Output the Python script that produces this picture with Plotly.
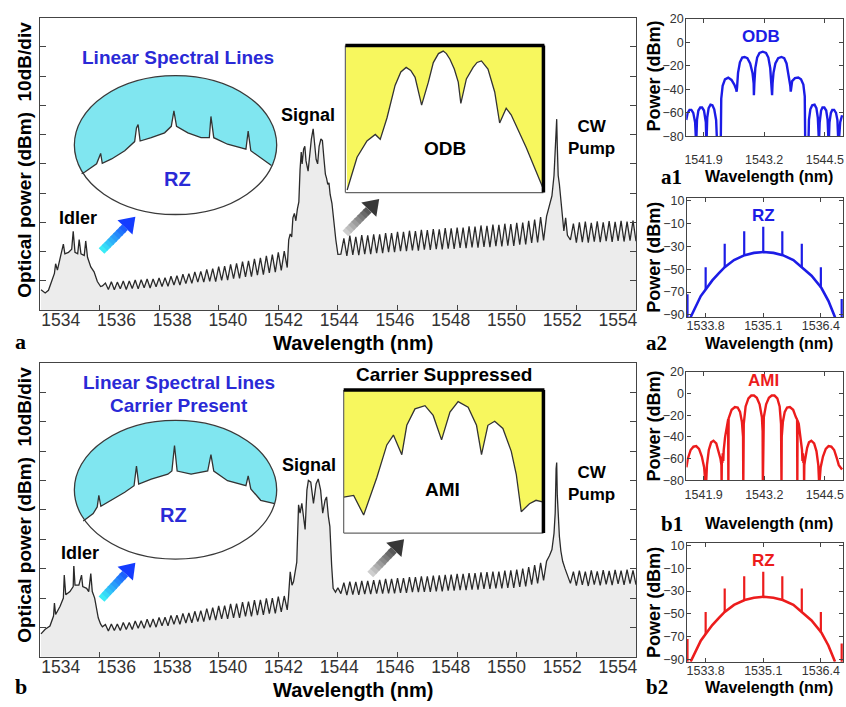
import plotly.graph_objects as go

W, H = 846, 707
def PX(x): return x / W
def PY(y): return 1 - y / H

SANS = "Liberation Sans, Arial, sans-serif"
SERIF = "Liberation Serif, Times New Roman, serif"

# ======================= DATA =======================
# ---- main spectrum, panel a (wavelength nm, power dBm) ----
a_idler = [(1534.04,-63.1),(1534.18,-64.2),(1534.29,-63.3),(1534.40,-59.7),(1534.49,-57.5),(1534.53,-54.2),
           (1534.59,-56.4),(1534.71,-51.0),(1534.79,-47.5),(1534.84,-50.8),(1534.96,-50.3),(1535.07,-49.2),
           (1535.12,-43.1),(1535.18,-50.3),(1535.27,-50.8),(1535.32,-45.9),(1535.38,-50.8),(1535.49,-51.4),
           (1535.54,-46.4),(1535.60,-52.0),(1535.71,-55.3),(1535.82,-57.0),(1535.93,-60.3),(1536.04,-62.0)]
a_rip1_start = 1536.1
a_rip1_troughs = [-61.8,-63.0,-63.1,-62.8,-63.0,-62.7,-62.8,-62.4,-62.5,-62.1,-62.0,-61.9,-61.5,-61.5,-61.0,-60.9,
                  -60.5,-60.5,-60.2,-60.3,-59.9,-59.8,-59.3,-59.2,-58.7,-58.6,-58.1,-57.9,-57.3,-57.1,-56.5,-55.5]
a_rip1_peaks = [-60.8,-60.4,-60.5,-60.1,-60.1,-59.8,-59.7,-59.4,-59.4,-59.1,-59.0,-58.5,-58.3,-57.8,-57.6,-57.0,
                -56.8,-56.1,-55.9,-55.2,-55.0,-54.4,-54.1,-53.5,-53.2,-52.5,-52.2,-51.5,-51.1,-50.3,-49.9]
a_signal = [(1542.35,-46.0),(1542.40,-44.0),(1542.45,-45.0),(1542.49,-38.5),(1542.54,-37.0),(1542.59,-39.5),
            (1542.64,-35.5),(1542.69,-33.0),(1542.73,-22.0),(1542.77,-16.0),(1542.80,-20.0),(1542.85,-15.0),
            (1542.89,-14.0),(1542.93,-19.0),(1543.00,-22.5),(1543.05,-17.0),(1543.11,-11.5),(1543.17,-8.0),
            (1543.22,-13.0),(1543.27,-18.5),(1543.32,-20.0),(1543.37,-14.0),(1543.43,-11.5),(1543.48,-12.0),
            (1543.53,-18.0),(1543.58,-23.5),(1543.62,-25.0),(1543.66,-27.0),(1543.70,-26.5),(1543.74,-30.5),
            (1543.80,-33.5),(1543.86,-40.0),(1543.93,-46.0),(1544.00,-51.0)]
a_rip2_start = 1544.1
a_rip2_troughs = [-50.9,-51.5,-51.2,-51.3,-50.9,-50.9,-50.6,-50.6,-50.2,-50.2,-49.9,-49.9,-49.6,-49.7,-49.4,-49.5,
                  -49.2,-49.3,-49.0,-49.1,-48.8,-48.9,-48.6,-48.7,-48.4,-48.5,-48.2,-48.3,-48.0,-48.1,-47.7,-47.6,
                  -47.1,-46.9,-46.2]
a_rip2_peaks = [-45.5,-44.6,-45.0,-44.4,-44.5,-44.1,-44.1,-43.7,-43.7,-43.3,-43.3,-42.9,-43.0,-42.6,-42.7,-42.3,
                -42.4,-42.0,-42.1,-41.8,-41.8,-41.4,-41.5,-41.1,-41.2,-40.8,-40.9,-40.5,-40.6,-40.2,-40.1,-39.5,
                -39.1,-38.2]
a_pump = [(1551.00,-38.0),(1551.10,-34.0),(1551.18,-31.0),(1551.25,-24.0),(1551.29,-13.0),(1551.32,-5.0),
          (1551.34,-4.7),(1551.36,-14.0),(1551.39,-24.0),(1551.43,-27.0),(1551.47,-32.0),(1551.52,-38.0),
          (1551.58,-43.0),(1551.64,-38.5),(1551.70,-44.5)]
a_rip3_start = 1551.8
a_rip3_troughs = [-46.0,-47.0,-46.8,-47.0,-46.6,-46.8,-46.5,-46.7,-46.4,-46.6,-46.3,-46.5,-46.2]
a_rip3_peaks = [-40.5,-40.0,-39.8,-40.2,-39.7,-40.0,-39.6,-39.9,-39.5,-39.8,-39.4,-39.6]

# ---- main spectrum, panel b ----
b_idler = [(1534.04,-62.2),(1534.18,-60.6),(1534.34,-59.5),(1534.46,-56.1),(1534.49,-51.7),(1534.53,-55.6),
           (1534.68,-52.8),(1534.79,-50.0),(1534.82,-42.2),(1534.87,-48.9),(1535.01,-47.8),(1535.12,-46.1),
           (1535.14,-38.7),(1535.18,-45.6),(1535.31,-45.6),(1535.40,-42.2),(1535.44,-46.1),(1535.57,-46.7),
           (1535.64,-47.8),(1535.71,-41.7),(1535.76,-47.8),(1535.84,-50.0),(1535.96,-56.7),(1536.04,-58.9)]
b_rip1_start = 1536.1
b_rip1_troughs = [-59.8,-61.2,-61.0,-61.0,-60.7,-60.7,-60.3,-60.3,-59.9,-59.9,-59.4,-59.4,-58.9,-58.9,-58.5,-58.4,
                  -58.0,-58.0,-57.5,-57.5,-57.1,-57.1,-56.7,-56.7,-56.2,-56.2,-55.8,-55.7,-55.3,-55.2,-54.7,-54.0]
b_rip1_peaks = [-59.0,-58.8,-58.8,-58.3,-58.3,-57.8,-57.7,-57.2,-57.1,-56.6,-56.5,-55.9,-55.8,-55.2,-55.1,-54.5,
                -54.3,-53.6,-53.3,-52.7,-52.6,-52.0,-51.9,-51.4,-51.2,-50.7,-50.6,-50.1,-50.0,-49.5,-49.3]
b_signal = [(1542.34,-50.0),(1542.40,-41.1),(1542.46,-45.6),(1542.51,-44.5),(1542.57,-41.1),(1542.62,-37.8),
            (1542.68,-18.3),(1542.73,-21.1),(1542.79,-17.8),(1542.84,-22.2),(1542.90,-26.7),(1542.96,-13.3),
            (1543.01,-10.0),(1543.09,-10.6),(1543.18,-17.8),(1543.27,-11.1),(1543.34,-9.5),(1543.42,-13.3),
            (1543.49,-21.1),(1543.57,-16.7),(1543.62,-15.6),(1543.68,-22.2),(1543.73,-25.6),(1543.79,-38.9),
            (1543.84,-46.7),(1543.92,-48.0),(1544.00,-46.5)]
b_rip2_start = 1544.1
b_rip2_troughs = [-48.5,-49.0,-48.8,-48.9,-48.7,-48.7,-48.5,-48.5,-48.4,-48.4,-48.2,-48.2,-48.0,-48.0,-47.9,-47.9,
                  -47.7,-47.7,-47.5,-47.5,-47.3,-47.3,-47.1,-47.1,-46.9,-46.9,-46.7,-46.7,-46.5,-46.5,-46.2,-46.0,
                  -45.4,-45.0,-44.0]
b_rip2_peaks = [-44.8,-44.4,-44.5,-44.2,-44.2,-43.9,-43.8,-43.5,-43.5,-43.2,-43.2,-42.9,-42.9,-42.6,-42.6,-42.4,
                -42.3,-42.1,-42.0,-41.8,-41.8,-41.5,-41.5,-41.3,-41.2,-41.0,-41.0,-40.7,-40.6,-40.3,-40.0,-39.5,
                -38.8,-38.0]
b_pump = [(1551.00,-37.5),(1551.10,-35.5),(1551.18,-33.5),(1551.25,-28.0),(1551.29,-21.0),(1551.32,-6.0),
          (1551.34,-3.9),(1551.36,-15.0),(1551.39,-22.0),(1551.43,-29.0),(1551.48,-34.0),(1551.54,-37.5),
          (1551.62,-40.0),(1551.70,-42.0)]
b_rip3_start = 1551.8
b_rip3_troughs = [-45.0,-45.8,-45.5,-45.9,-45.4,-45.7,-45.3,-45.6,-45.2,-45.5,-45.1,-45.4,-45.0]
b_rip3_peaks = [-41.0,-40.7,-41.0,-40.6,-40.9,-40.5,-40.8,-40.4,-40.7,-40.3,-40.6,-40.2]

main_xticks = [1534, 1536, 1538, 1540, 1542, 1544, 1546, 1548, 1550, 1552, 1554]
main_yticks = [-60, -50, -40, -30, -20, -10, 0, 10, 20]

# ---- inset shapes (normalised 0..1 inside inset box) ----
ell_a = [(0.036,0.294),(0.052,0.306),(0.110,0.365),(0.121,0.400),(0.130,0.440),(0.138,0.369),(0.184,0.400),
         (0.249,0.459),(0.298,0.525),(0.307,0.624),(0.315,0.647),(0.325,0.529),(0.380,0.553),(0.446,0.588),
         (0.479,0.635),(0.492,0.746),(0.505,0.635),(0.561,0.588),(0.626,0.553),(0.667,0.553),(0.675,0.706),
         (0.689,0.553),(0.757,0.506),(0.848,0.471),(0.859,0.600),(0.872,0.459),(0.938,0.388),(0.974,0.353)]
ell_b = [(0.044,0.275),(0.093,0.329),(0.113,0.376),(0.121,0.459),(0.131,0.381),(0.184,0.424),(0.249,0.482),
         (0.295,0.529),(0.307,0.671),(0.318,0.541),(0.380,0.576),(0.462,0.612),(0.482,0.635),(0.495,0.819),
         (0.508,0.635),(0.577,0.612),(0.659,0.635),(0.675,0.753),(0.689,0.635),(0.757,0.565),(0.848,0.529),
         (0.859,0.600),(0.872,0.506),(0.921,0.424),(0.990,0.400)]
box_a = [(0.009,0.017),(0.059,0.240),(0.109,0.351),(0.151,0.395),(0.176,0.362),(0.210,0.507),(0.251,0.729),
         (0.280,0.820),(0.307,0.851),(0.330,0.830),(0.352,0.784),(0.385,0.595),(0.419,0.751),(0.444,0.884),
         (0.470,0.945),(0.494,0.962),(0.510,0.945),(0.528,0.907),(0.550,0.840),(0.570,0.751),(0.583,0.607),
         (0.611,0.773),(0.645,0.851),(0.665,0.885),(0.687,0.895),(0.720,0.840),(0.754,0.684),(0.779,0.473),
         (0.812,0.573),(0.837,0.529),(0.913,0.307),(0.995,0.040)]
box_b = [(0.000,0.251),(0.050,0.263),(0.100,0.126),(0.166,0.388),(0.216,0.616),(0.249,0.685),(0.291,0.548),
         (0.316,0.753),(0.357,0.868),(0.407,0.890),(0.448,0.822),(0.490,0.651),(0.532,0.845),(0.573,0.918),
         (0.623,0.879),(0.665,0.753),(0.690,0.548),(0.722,0.753),(0.756,0.781),(0.797,0.731),(0.839,0.571),
         (0.864,0.411),(0.889,0.149),(0.930,0.205),(0.963,0.229),(1.000,0.217)]

# ---- small panel a1: ODB spectrum ----
odb = [(1541.53,-66),(1541.56,-60),(1541.60,-57.5),(1541.64,-57.5),(1541.68,-60),(1541.72,-68),(1541.74,-85),
       (1541.745,-85),(1541.76,-66),(1541.79,-58),(1541.83,-55.5),(1541.87,-55.5),(1541.91,-58),(1541.95,-68),(1541.96,-85),
       (1541.965,-85),(1541.98,-64),(1542.01,-56),(1542.05,-53),(1542.09,-53.5),(1542.13,-57),(1542.17,-66),(1542.19,-85),
       (1542.27,-85),(1542.28,-48),(1542.31,-37),(1542.36,-31.5),(1542.43,-30),(1542.50,-32),(1542.56,-36),(1542.60,-40),(1542.61,-42),
       (1542.62,-38),(1542.64,-26),(1542.68,-17),(1542.73,-13),(1542.78,-12.5),(1542.84,-13.5),(1542.90,-18),(1542.95,-26),(1542.975,-35),(1542.98,-45),
       (1542.99,-35),(1543.01,-22),(1543.05,-13),(1543.10,-9),(1543.17,-8),(1543.24,-9),(1543.29,-13),(1543.33,-22),(1543.36,-35),(1543.37,-45),
       (1543.38,-35),(1543.40,-26),(1543.44,-18),(1543.50,-13.5),(1543.57,-12.5),(1543.63,-13.5),(1543.68,-18),(1543.72,-27),(1543.76,-37),(1543.77,-42),
       (1543.78,-38),(1543.80,-33),(1543.86,-30.5),(1543.93,-30),(1543.99,-31.5),(1544.04,-36),(1544.07,-46),(1544.08,-85),
       (1544.15,-85),(1544.16,-66),(1544.19,-57),(1544.23,-53.5),(1544.28,-53),(1544.32,-56),(1544.35,-64),(1544.37,-85),
       (1544.375,-85),(1544.39,-68),(1544.42,-58),(1544.45,-55.5),(1544.49,-55.5),(1544.53,-58),(1544.56,-66),(1544.58,-85),
       (1544.585,-85),(1544.60,-68),(1544.63,-60),(1544.66,-57.5),(1544.70,-57.5),(1544.74,-60),(1544.77,-66),(1544.79,-85),
       (1544.80,-85),(1544.83,-68),(1544.87,-62)]

# ---- small panel b1: AMI spectrum ----
ami = [(1541.53,-68),(1541.56,-60),(1541.62,-52),(1541.68,-49),(1541.74,-48.5),(1541.80,-51),(1541.86,-58),(1541.91,-68),(1541.94,-85),
       (1541.95,-85),(1541.97,-66),(1542.01,-52),(1542.06,-45),(1542.11,-43.5),(1542.17,-46),(1542.22,-53),(1542.26,-60),(1542.28,-66),
       (1542.285,-85),(1542.29,-58),(1542.30,-64),(1542.31,-55),(1542.32,-62),(1542.33,-52),(1542.36,-40),(1542.40,-28),(1542.425,-24),
       (1542.43,-85),(1542.435,-23),(1542.50,-15),(1542.57,-12.5),(1542.63,-13),(1542.68,-17),(1542.72,-26),(1542.745,-40),(1542.75,-85),
       (1542.755,-40),(1542.76,-28),(1542.80,-12),(1542.86,-4.5),(1542.92,-2),(1542.98,-2),(1543.04,-4),(1543.10,-10),(1543.15,-22),(1543.165,-35),(1543.17,-85),
       (1543.175,-35),(1543.19,-22),(1543.24,-10),(1543.30,-4),(1543.36,-2),(1543.42,-2),(1543.48,-4.5),(1543.53,-12),(1543.56,-28),(1543.565,-40),(1543.57,-85),
       (1543.575,-40),(1543.60,-26),(1543.64,-17),(1543.69,-13),(1543.75,-12.5),(1543.82,-15),(1543.88,-22),(1543.905,-24),(1543.91,-85),
       (1543.915,-25),(1543.94,-28),(1543.98,-40),(1544.01,-52),(1544.02,-62),(1544.03,-55),(1544.04,-64),(1544.05,-58),(1544.055,-85),
       (1544.06,-66),(1544.08,-60),(1544.12,-50),(1544.16,-45),(1544.21,-43.5),(1544.27,-46),(1544.32,-53),(1544.36,-66),(1544.37,-85),
       (1544.38,-85),(1544.41,-68),(1544.46,-58),(1544.52,-51),(1544.58,-48.5),(1544.64,-49),(1544.70,-52),(1544.76,-60),(1544.80,-66),(1544.87,-70)]
small_odb_xticks = [1541.9, 1543.2, 1544.5]
small_odb_yticks = [20, 0, -20, -40, -60, -80]

# ---- small panels a2/b2: RZ spectrum ----
rz_env = [(1533.46,-92),(1533.58,-82),(1533.69,-73.5),(1533.80,-67.7),(1533.95,-59.8),(1534.10,-53.5),(1534.23,-48.3),
          (1534.44,-42.1),(1534.68,-37.8),(1534.89,-35.8),(1535.11,-35.0),(1535.33,-35.8),(1535.54,-37.8),(1535.78,-42.1),
          (1535.97,-48.3),(1536.19,-55.8),(1536.41,-66.3),(1536.57,-77.7),(1536.72,-92)]
rz_line_wl = [1533.80, 1534.23, 1534.67, 1535.10, 1535.53, 1535.97, 1536.40, 1533.39, 1536.87]
rz_line_base = [-67.7, -48.3, -38.0, -35.0, -37.8, -48.3, -66.3, -95, -95]
rz_line_tip = [-48.3, -27.8, -17.0, -13.0, -17.0, -27.8, -48.3, -72, -76]
small_rz_xticks = [1533.8, 1535.1, 1536.4]
small_rz_yticks = [10, -10, -30, -50, -70, -90]

# ======================= FIGURE =======================
def ripple(start, troughs, peaks, step=0.1):
    xs, ys = [], []
    for i, t in enumerate(troughs):
        xs.append(round(start + 2 * i * step, 3)); ys.append(t)
        if i < len(peaks):
            xs.append(round(start + (2 * i + 1) * step, 3)); ys.append(peaks[i])
    return xs, ys

def assemble(parts):
    xs, ys = [], []
    for p in parts:
        if isinstance(p, tuple):
            xs += p[0]; ys += p[1]
        else:
            xs += [q[0] for q in p]; ys += [q[1] for q in p]
    return xs, ys

a_x, a_y = assemble([a_idler, ripple(a_rip1_start, a_rip1_troughs, a_rip1_peaks), a_signal,
                     ripple(a_rip2_start, a_rip2_troughs, a_rip2_peaks), a_pump,
                     ripple(a_rip3_start, a_rip3_troughs, a_rip3_peaks)])
b_x, b_y = assemble([b_idler, ripple(b_rip1_start, b_rip1_troughs, b_rip1_peaks), b_signal,
                     ripple(b_rip2_start, b_rip2_troughs, b_rip2_peaks), b_pump,
                     ripple(b_rip3_start, b_rip3_troughs, b_rip3_peaks)])

fig = go.Figure()
LINE = "#2a2a2a"
FILL = "#ececec"

for (xs, ys, xa, ya) in [(a_x, a_y, "x", "y"), (b_x, b_y, "x2", "y2")]:
    fig.add_trace(go.Scatter(x=[xs[0]] + xs + [xs[-1]], y=[-80] + ys + [-80], fill="toself",
                             fillcolor=FILL, line=dict(width=0), mode="lines", hoverinfo="skip",
                             xaxis=xa, yaxis=ya, showlegend=False))
    fig.add_trace(go.Scatter(x=xs, y=ys, mode="lines", line=dict(color=LINE, width=1.3),
                             xaxis=xa, yaxis=ya, showlegend=False))
# tick-label carrier axes
fig.add_trace(go.Scatter(x=[], y=[], xaxis="x11", yaxis="y", showlegend=False))
fig.add_trace(go.Scatter(x=[], y=[], xaxis="x12", yaxis="y2", showlegend=False))

BLUE = "#1c1ce6"
RED = "#ec1c1c"

def unz(pairs):
    return [p[0] for p in pairs], [p[1] for p in pairs]

ox, oy = unz(odb)
fig.add_trace(go.Scatter(x=ox, y=oy, mode="lines", line=dict(color=BLUE, width=2.4), xaxis="x3", yaxis="y3", showlegend=False))
ax_, ay_ = unz(ami)
fig.add_trace(go.Scatter(x=ax_, y=ay_, mode="lines", line=dict(color=RED, width=2.4), xaxis="x5", yaxis="y5", showlegend=False))
rx, ry = unz(rz_env)
lx, ly = [], []
for w, b0, t0 in zip(rz_line_wl, rz_line_base, rz_line_tip):
    lx += [w, w, None]; ly += [b0, t0, None]
for col, xa, ya in [(BLUE, "x4", "y4"), (RED, "x6", "y6")]:
    fig.add_trace(go.Scatter(x=rx, y=ry, mode="lines", line=dict(color=col, width=2.6), xaxis=xa, yaxis=ya, showlegend=False))
    fig.add_trace(go.Scatter(x=lx, y=ly, mode="lines", line=dict(color=col, width=2.2), xaxis=xa, yaxis=ya, showlegend=False))

# insets
CYAN = "#80e6f0"
YELLOW = "#f7f75e"
for pts, xa, ya in [(ell_a, "x7", "y7"), (ell_b, "x9", "y9")]:
    cx, cy = unz(pts)
    px_ = [-0.03] + cx + [1.03, 1.03, -0.03]
    py_ = [cy[0]] + cy + [cy[-1], -0.06, -0.06]
    fig.add_trace(go.Scatter(x=px_, y=py_, fill="toself", fillcolor="white", mode="lines", line=dict(width=0),
                             xaxis=xa, yaxis=ya, showlegend=False, hoverinfo="skip"))
    fig.add_trace(go.Scatter(x=cx, y=cy, mode="lines", line=dict(color="#333", width=1.3), xaxis=xa, yaxis=ya, showlegend=False))
for pts, xa, ya in [(box_a, "x8", "y8"), (box_b, "x10", "y10")]:
    cx, cy = unz(pts)
    fig.add_trace(go.Scatter(x=cx + [1, 0, cx[0]], y=cy + [1.0, 1.0, cy[0]], fill="toself", fillcolor=YELLOW,
                             mode="lines", line=dict(width=0), xaxis=xa, yaxis=ya, showlegend=False, hoverinfo="skip"))
    fig.add_trace(go.Scatter(x=cx, y=cy, mode="lines", line=dict(color="#333", width=1.3), xaxis=xa, yaxis=ya, showlegend=False))

# ---------- axes ----------
AX = "#444"
SMALLFONT = dict(family=SANS, size=12.5, color="#333")
def main_x(dom_y_anchor):
    return dict(domain=[PX(38), PX(637)], range=[1534, 1554], tickvals=main_xticks, showticklabels=False,
                ticks="inside", ticklen=5, tickcolor=AX, showline=True, linecolor=AX, linewidth=1.3,
                mirror=True, showgrid=False, zeroline=False, anchor=dom_y_anchor)
def main_y(top, bot, anchor):
    return dict(domain=[PY(bot), PY(top)], range=[-70, 30], tickvals=main_yticks, showticklabels=False,
                ticks="inside", ticklen=6, tickcolor=AX, showline=True, linecolor=AX, linewidth=1.3,
                mirror="ticks", showgrid=False, zeroline=False, anchor=anchor)
def label_x(over, anchor):
    return dict(overlaying=over, anchor=anchor, range=[1533.25, 1554.65], tickvals=main_xticks, ticks="",
                showline=False, showgrid=False, zeroline=False, ticklabelstandoff=-2,
                tickfont=dict(family=SANS, size=17.5, color="#333"))
def small_x(l, r, rng, tv, standoff, anchor):
    return dict(domain=[PX(l), PX(r)], range=rng, tickvals=tv, ticktext=[f"{v:.1f}" for v in tv],
                ticks="inside", ticklen=4, tickcolor=AX, showline=True, linecolor=AX, linewidth=1.2,
                mirror="ticks", showgrid=False, zeroline=False, anchor=anchor, ticklabelstandoff=standoff,
                ticklabeloverflow="allow", tickfont=SMALLFONT)
def small_y(top, bot, rng, tv, anchor):
    return dict(domain=[PY(bot), PY(top)], range=rng, tickvals=tv, ticks="inside", ticklen=4, tickcolor=AX,
                showline=True, linecolor=AX, linewidth=1.2, mirror="ticks", showgrid=False, zeroline=False,
                anchor=anchor, ticklabelstandoff=-1, ticklabeloverflow="allow", tickfont=SMALLFONT)
def inset(l, r, t, b, pad):
    pw, ph = (r - l) * pad, (b - t) * pad
    rng = [-pad, 1 + pad]
    xa = dict(domain=[PX(l - pw), PX(r + pw)], range=rng, visible=False)
    ya = dict(domain=[PY(b + ph), PY(t - ph)], range=rng, visible=False)
    return xa, ya

E_A = (72.7, 276, 70, 211.7)
E_B = (72.7, 276, 421.7, 563.3)
B_A = (345, 544, 39.3, 189.3)
B_B = (343.3, 544, 390.7, 536.7)
x7, y7 = inset(*E_A, 0.05); x9, y9 = inset(*E_B, 0.05)
x8, y8 = inset(*B_A, 0.0); x10, y10 = inset(*B_B, 0.0)
for d, a in [(x7, "y7"), (x9, "y9"), (x8, "y8"), (x10, "y10")]:
    d["anchor"] = a
for d, a in [(y7, "x7"), (y9, "x9"), (y8, "x8"), (y10, "x10")]:
    d["anchor"] = a

layout = dict(
    width=W, height=H, margin=dict(l=0, r=0, t=0, b=0), autosize=False,
    paper_bgcolor="white", plot_bgcolor="rgba(0,0,0,0)", showlegend=False,
    xaxis=main_x("y"), yaxis=main_y(11, 309, "x"),
    xaxis2=main_x("y2"), yaxis2=main_y(363, 663, "x2"),
    xaxis11=label_x("x", "y"), xaxis12=label_x("x2", "y2"),
    xaxis3=small_x(687.5, 845, [1541.53, 1544.89], small_odb_xticks, 12, "y3"),
    yaxis3=small_y(12, 132, [-80, 20], small_odb_yticks, "x3"),
    xaxis4=small_x(688.3, 845, [1533.38, 1536.9], small_rz_xticks, -3, "y4"),
    yaxis4=small_y(195, 316.5, [-92, 12], small_rz_yticks, "x4"),
    xaxis5=small_x(687.7, 845, [1541.53, 1544.89], small_odb_xticks, 2, "y5"),
    yaxis5=small_y(372, 483, [-80, 20], small_odb_yticks, "x5"),
    xaxis6=small_x(688.3, 845, [1533.38, 1536.9], small_rz_xticks, -3, "y6"),
    yaxis6=small_y(547, 668, [-92, 12], small_rz_yticks, "x6"),
    xaxis7=x7, yaxis7=y7, xaxis8=x8, yaxis8=y8, xaxis9=x9, yaxis9=y9, xaxis10=x10, yaxis10=y10,
)
fig.update_layout(**layout)

# ---------- shapes ----------
shapes = []
for xa, ya in [("x7", "y7"), ("x9", "y9")]:
    shapes.append(dict(type="circle", xref=xa, yref=ya, x0=0, x1=1, y0=0, y1=1, fillcolor=CYAN,
                       line=dict(width=0), layer="below"))
    shapes.append(dict(type="circle", xref=xa, yref=ya, x0=0, x1=1, y0=0, y1=1,
                       line=dict(color="#3a3a3a", width=1.3), layer="above"))
for (l, r, t, b) in [B_A, B_B]:
    shapes.append(dict(type="line", xref="paper", yref="paper", x0=PX(l), x1=PX(l), y0=PY(t), y1=PY(b),
                       line=dict(color="#666", width=1.2)))
    shapes.append(dict(type="line", xref="paper", yref="paper", x0=PX(l), x1=PX(r), y0=PY(b), y1=PY(b),
                       line=dict(color="#666", width=1.2)))
    shapes.append(dict(type="line", xref="paper", yref="paper", x0=PX(l), x1=PX(r + 1), y0=PY(t), y1=PY(t),
                       line=dict(color="black", width=3.5)))
    shapes.append(dict(type="line", xref="paper", yref="paper", x0=PX(r), x1=PX(r), y0=PY(t), y1=PY(b),
                       line=dict(color="black", width=3.5)))

def lerp(c0, c1, f):
    return "rgb(%d,%d,%d)" % tuple(round(a + (b - a) * f) for a, b in zip(c0, c1))

def arrow(tail, tip, c0, c1, n=8, sw=8.0, hw=21.0, hl=15.0):
    tx, ty = tail; hx, hy = tip
    dx, dy = hx - tx, hy - ty
    L = (dx * dx + dy * dy) ** 0.5
    ux, uy = dx / L, dy / L
    nx, ny = -uy, ux
    bx, by = hx - ux * hl, hy - uy * hl
    out = []
    def path(pts):
        return "M " + " L ".join(f"{PX(x):.5f},{PY(y):.5f}" for x, y in pts) + " Z"
    for i in range(n):
        f0, f1 = i / n, min(1.0, (i + 1) / n + 0.03)
        p0 = (tx + (bx - tx) * f0, ty + (by - ty) * f0)
        p1 = (tx + (bx - tx) * f1, ty + (by - ty) * f1)
        pts = [(p0[0] + nx * sw / 2, p0[1] + ny * sw / 2), (p1[0] + nx * sw / 2, p1[1] + ny * sw / 2),
               (p1[0] - nx * sw / 2, p1[1] - ny * sw / 2), (p0[0] - nx * sw / 2, p0[1] - ny * sw / 2)]
        out.append(dict(type="path", xref="paper", yref="paper", path=path(pts),
                        fillcolor=lerp(c0, c1, (i + 0.5) / n * 0.85), line=dict(width=0)))
    pts = [(hx, hy), (bx + nx * hw / 2, by + ny * hw / 2), (bx - nx * hw / 2, by - ny * hw / 2)]
    out.append(dict(type="path", xref="paper", yref="paper", path=path(pts), fillcolor=lerp(c0, c1, 1.0),
                    line=dict(width=0)))
    return out

CY0, CY1 = (60, 245, 245), (20, 60, 255)
GR0, GR1 = (215, 215, 215), (55, 55, 55)
shapes += arrow((100, 249), (134, 214), CY0, CY1)
shapes += arrow((345, 231), (379, 196), GR0, GR1)
shapes += arrow((100, 604), (134, 567), CY0, CY1)
shapes += arrow((370, 579), (404, 543), GR0, GR1)
fig.update_layout(shapes=shapes)

# ---------- annotations ----------
def ann(text, x, y, size, color="black", bold=True, family=SANS, angle=0):
    t = f"<b>{text}</b>" if bold else text
    return dict(text=t, x=PX(x), y=PY(y), xref="paper", yref="paper", xanchor="center", yanchor="middle",
                showarrow=False, textangle=angle, font=dict(family=family, size=size, color=color))

TXTBLUE = "#2a2ad6"
anns = [
    ann("Optical power (dBm)\u00a0\u00a010dB/div", 23, 156, 19, angle=-90),
    ann("Optical power (dBm)\u00a0\u00a010dB/div", 23, 508, 19, angle=-90),
    ann("Wavelength (nm)", 353, 342.5, 20), ann("Wavelength (nm)", 353, 697, 20),
    ann("a", 19, 341, 22, family=SERIF), ann("b", 19, 693, 22, family=SERIF),
    ann("Idler", 76, 215, 18), ann("Idler", 78, 557, 18),
    ann("Signal", 307, 110, 18), ann("Signal", 308, 467, 18),
    ann("CW<br>Pump", 592, 133, 17), ann("CW<br>Pump", 592, 486, 17),
    ann("Linear Spectral Lines", 177, 52, 19, color=TXTBLUE),
    ann("Linear Spectral Lines", 178, 383, 19, color=TXTBLUE),
    ann("Carrier Present", 178, 407, 19, color=TXTBLUE),
    ann("RZ", 176, 175, 20, color=TXTBLUE), ann("RZ", 172, 518, 20, color=TXTBLUE),
    ann("ODB", 445, 144, 19), ann("AMI", 443, 492, 19),
    ann("Carrier Suppressed", 444, 375, 19),
    ann("ODB", 763, 30, 17, color=BLUE), ann("RZ", 765, 213, 17, color=BLUE),
    ann("AMI", 765, 381, 17, color=RED), ann("RZ", 765, 565, 17, color=RED),
]
for yc in [70, 255, 427, 607]:
    anns.append(ann("Power (dBm)", 655, yc, 18, angle=-90))
for yc in [173, 343, 527, 694]:
    anns.append(ann("Wavelength (nm)", 771, yc, 16))
anns += [ann("a1", 673, 173, 21, family=SERIF), ann("a2", 658, 343, 21, family=SERIF),
         ann("b1", 673, 527, 21, family=SERIF), ann("b2", 658, 694, 21, family=SERIF)]
fig.update_layout(annotations=anns)

fig.write_html("out.html")
